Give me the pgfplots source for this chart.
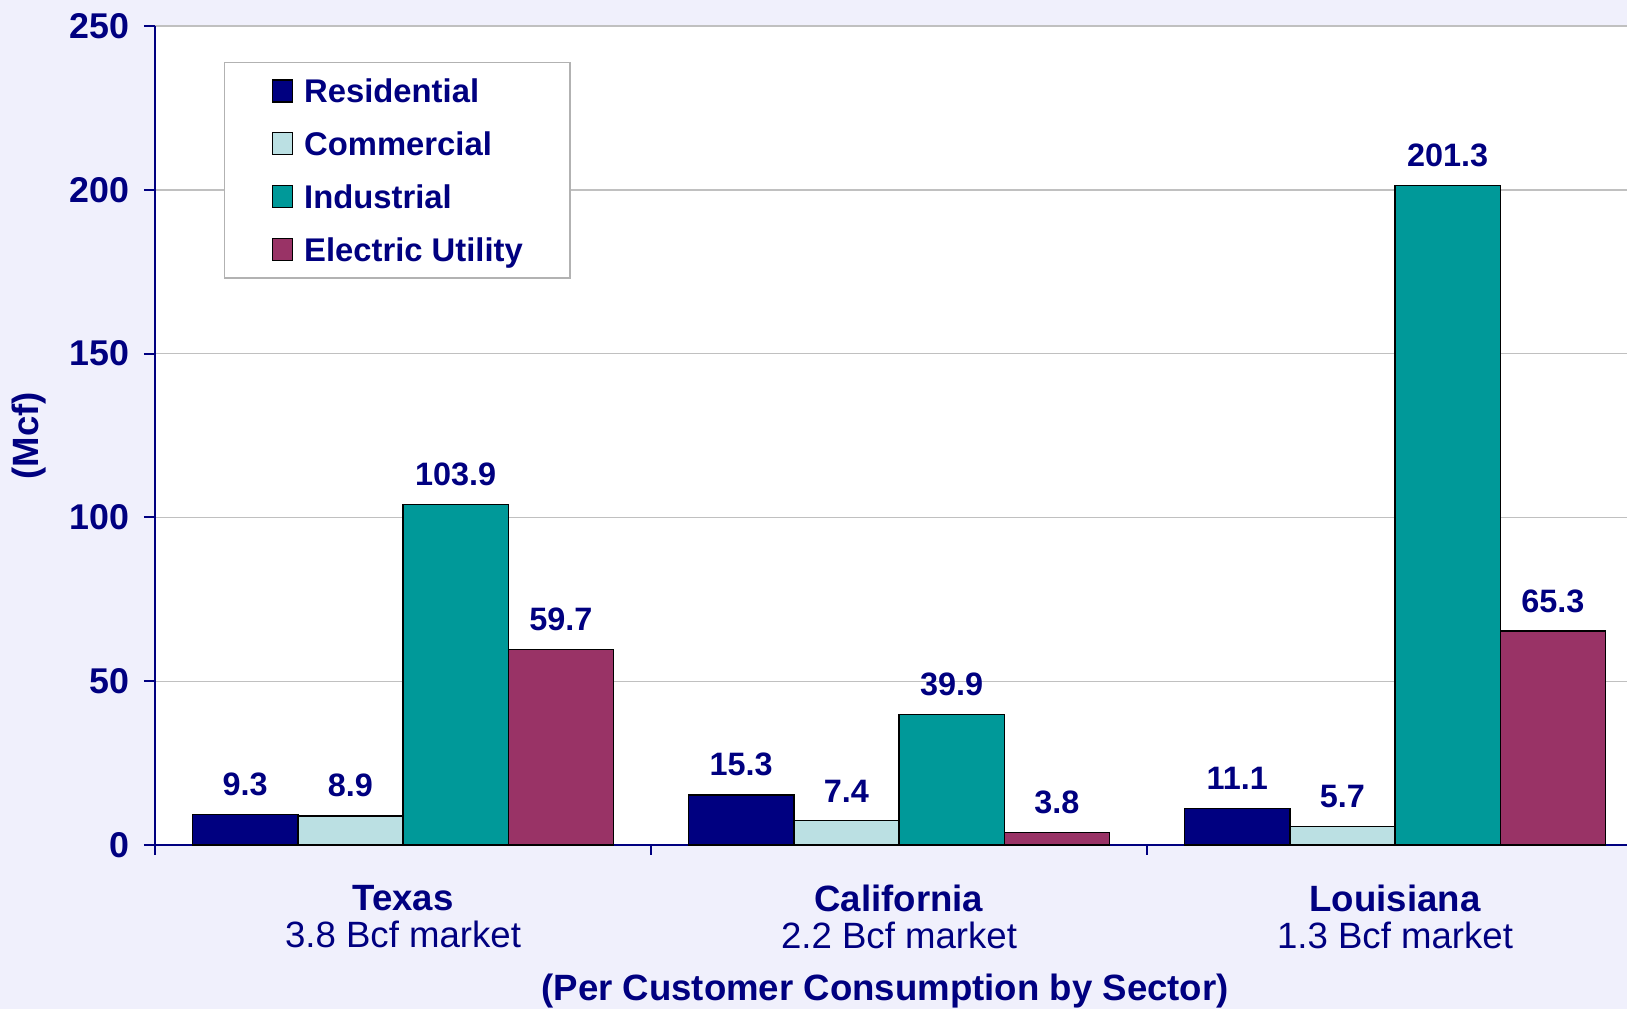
\documentclass[border=0pt]{standalone}
\usepackage{pgfplots}
\pgfplotsset{compat=1.18}
\usepackage{fontspec}
\setmainfont{Liberation Sans}
\definecolor{navyc}{HTML}{000080}
\definecolor{comm}{HTML}{BBE0E3}
\definecolor{indu}{HTML}{009999}
\definecolor{elec}{HTML}{993366}
\definecolor{bgc}{HTML}{F0F0FC}
\definecolor{gridc}{HTML}{C0C0C0}
\begin{document}
\begin{tikzpicture}
\fill[bgc] (-77.5pt,-82pt) rectangle (736pt,422.5pt);
\begin{axis}[
 at={(0,0)}, anchor=south west,
 scale only axis, width=736pt, height=409.5pt,
 xmin=-0.5, xmax=2.4677, ymin=0, ymax=250,
 clip=false,
 ybar=0pt, bar width=52.6pt,
 axis background/.style={fill=white},
 axis x line*=bottom, axis y line*=left,
 axis line style={navyc, line width=1pt, -},
 xtick={0,1,2},
 xticklabels={{\textbf{Texas}\\3.8 Bcf market},{\textbf{California}\\2.2 Bcf market},{\textbf{Louisiana}\\1.3 Bcf market}},
 x tick label style={align=center, font=\fontsize{18.3}{18.5}\selectfont, text=navyc, inner sep=0pt, anchor=north, yshift=-14.3pt},
 xtick style={draw=none},
 ytick={0,50,...,250},
 ytick pos=left, tick align=outside, major tick length=5.5pt,
 ytick style={navyc, line width=1pt},
 y tick label style={font=\fontsize{17.9}{20}\selectfont\bfseries, text=navyc, inner sep=0pt, xshift=-7.3pt},
 /pgf/number format/assume math mode=true,
 ymajorgrids, grid style={gridc, line width=0.7pt},
 xlabel={(Per Customer Consumption by Sector)},
 xlabel style={at={(axis description cs:0.496,-0.1893)}, anchor=base, font=\fontsize{18.3}{20}\selectfont\bfseries, text=navyc, inner sep=0pt},
 ylabel={(Mcf)},
 ylabel style={at={(axis description cs:-0.0856,0.5)}, anchor=center, font=\fontsize{18.3}{20}\selectfont\bfseries, text=navyc, inner sep=0pt},
 nodes near coords,
 every node near coord/.append style={font=\fontsize{16.2}{18}\selectfont\bfseries, text=navyc, inner sep=0pt, anchor=south, yshift=9pt},
 legend style={at={(axis description cs:0.0469,0.956)}, anchor=north west, draw=gray!60, fill=white, line width=0.7pt, inner xsep=23.5pt, inner ysep=8.2pt, row sep=14.6pt, font=\fontsize{16.4}{18}\selectfont\bfseries, text=navyc, nodes={inner sep=0pt, text height=11.6pt, text depth=0pt, anchor=west}},
 legend cell align=left,
 legend image code/.code={\draw[#1, draw=black, line width=0.7pt] (0pt,-5.3pt) rectangle (10pt,5.7pt); \path (15.5pt,0pt);},
]
\addplot[fill=navyc, draw=black, line width=0.7pt] coordinates {(0,9.3) (1,15.3) (2,11.1)};
\addplot[fill=comm, draw=black, line width=0.7pt] coordinates {(0,8.9) (1,7.4) (2,5.7)};
\addplot[fill=indu, draw=black, line width=0.7pt] coordinates {(0,103.9) (1,39.9) (2,201.3)};
\addplot[fill=elec, draw=black, line width=0.7pt] coordinates {(0,59.7) (1,3.8) (2,65.3)};
\legend{Residential,Commercial,Industrial,Electric Utility}
\draw[navyc, line width=1pt] (axis cs:0.5,0) -- ++(0pt,-5pt);
\draw[navyc, line width=1pt] (axis cs:1.5,0) -- ++(0pt,-5pt);
\draw[navyc, line width=1pt] (axis cs:-0.5,0) -- ++(0pt,-5pt);
\end{axis}
\pgfresetboundingbox
\path[use as bounding box] (-77.5pt,-82pt) rectangle (736pt,422.5pt);
\end{tikzpicture}
\end{document}
